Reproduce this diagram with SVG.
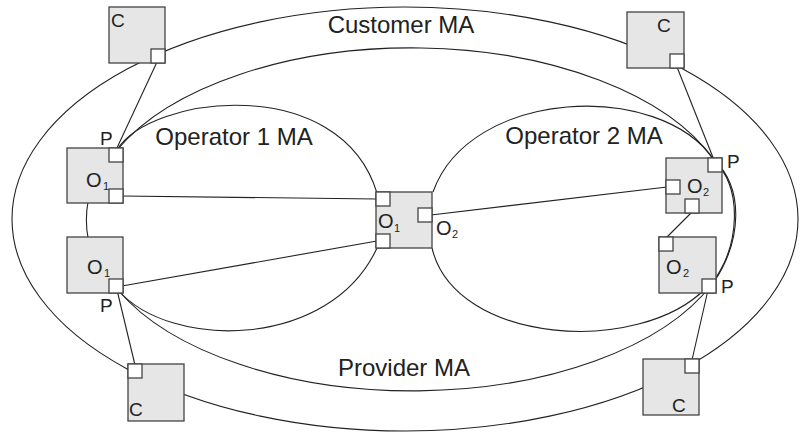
<svg xmlns="http://www.w3.org/2000/svg" width="801" height="433" viewBox="0 0 801 433">
<style>
.ln{fill:none;stroke:#222;stroke-width:1.1}
.box{fill:#e6e6e6;stroke:#444;stroke-width:1.3}
.port{fill:#fff;stroke:#444;stroke-width:1.3}
.t{font-family:"Liberation Sans",Arial,sans-serif;fill:#222}
.lab{font-size:24px}
.nl{font-size:20px}
.cl{font-size:19px}
.sub{font-size:11px}
.p{font-size:19px}
</style>
<rect width="801" height="433" fill="#fff"/>
<g id="domains">
<ellipse class="ln" cx="405" cy="219" rx="393" ry="212"/>
<path class="ln" d="M117,150 A323,173 0 0 1 714,160"/>
<path class="ln" d="M714,160 C744,188 742,240 714,282"/>
<path class="ln" d="M712,284 A323,171 0 0 1 118,290"/>
<path class="ln" d="M117,152 C76,185 76,255 118,290"/>
<path class="ln" d="M117,150 C150,95 340,72 377,193"/>
<path class="ln" d="M118,290 C170,350 330,350 377,248"/>
<path class="ln" d="M433,192 C470,88 660,80 714,160"/>
<path class="ln" d="M432,248 C455,345 640,356 706,288"/>
<path class="ln" d="M714,160 C743,189 740,246 712,283"/>
</g>
<g id="connectors">
<line class="ln" x1="157" y1="62" x2="116" y2="150"/>
<line class="ln" x1="135" y1="365" x2="117" y2="290"/>
<line class="ln" x1="677" y1="67" x2="714" y2="160"/>
<line class="ln" x1="692" y1="360" x2="708" y2="290"/>
<line class="ln" x1="122" y1="196" x2="377" y2="199"/>
<line class="ln" x1="122" y1="286" x2="377" y2="241"/>
<line class="ln" x1="431" y1="215" x2="667" y2="187"/>
<line class="ln" x1="692" y1="212" x2="666" y2="238"/>
</g>
<g id="c1">
<rect class="box" x="109" y="7" width="56" height="56"/>
<rect class="port" x="151" y="49" width="14" height="14"/>
<text class="t cl" x="111" y="27">C</text>
</g>
<g id="c2">
<rect class="box" x="627" y="12" width="57" height="56"/>
<rect class="port" x="670" y="54" width="14" height="14"/>
<text class="t cl" x="657" y="32">C</text>
</g>
<g id="c3">
<rect class="box" x="128" y="364" width="56" height="57"/>
<rect class="port" x="128" y="364" width="14" height="14"/>
<text class="t cl" x="129" y="416">C</text>
</g>
<g id="c4">
<rect class="box" x="643" y="359" width="56" height="56"/>
<rect class="port" x="685" y="359" width="14" height="14"/>
<text class="t cl" x="672" y="412">C</text>
</g>
<g id="o1a">
<rect class="box" x="67" y="148" width="56" height="55"/>
<rect class="port" x="109" y="148" width="14" height="14"/>
<rect class="port" x="109" y="189" width="14" height="14"/>
<text class="t nl" x="86" y="187">O</text>
<text class="t sub" x="103" y="190">1</text>
<text class="t p" x="100" y="145">P</text>
</g>
<g id="o1b">
<rect class="box" x="67" y="237" width="56" height="56"/>
<rect class="port" x="109" y="279" width="14" height="14"/>
<text class="t nl" x="87" y="274">O</text>
<text class="t sub" x="104" y="277">1</text>
<text class="t p" x="100" y="312">P</text>
</g>
<g id="oc">
<rect class="box" x="376" y="192" width="56" height="56"/>
<rect class="port" x="376" y="192" width="14" height="14"/>
<rect class="port" x="376" y="234" width="14" height="14"/>
<rect class="port" x="418" y="208" width="14" height="14"/>
<text class="t nl" x="378" y="228">O</text>
<text class="t sub" x="394" y="232">1</text>
<text class="t nl" x="436" y="235">O</text>
<text class="t sub" x="452" y="238">2</text>
</g>
<g id="o2a">
<rect class="box" x="666" y="158" width="56" height="55"/>
<rect class="port" x="708" y="158" width="14" height="14"/>
<rect class="port" x="666" y="180" width="14" height="14"/>
<rect class="port" x="685" y="199" width="14" height="14"/>
<text class="t nl" x="687" y="193">O</text>
<text class="t sub" x="703" y="196">2</text>
<text class="t p" x="727" y="168">P</text>
</g>
<g id="o2b">
<rect class="box" x="659" y="237" width="57" height="56"/>
<rect class="port" x="659" y="237" width="14" height="14"/>
<rect class="port" x="702" y="279" width="14" height="14"/>
<text class="t nl" x="666" y="274">O</text>
<text class="t sub" x="683" y="277">2</text>
<text class="t p" x="721" y="293">P</text>
</g>
<g id="labels">
<text class="t lab" x="401" y="33" text-anchor="middle">Customer MA</text>
<text class="t lab" x="234" y="145" text-anchor="middle">Operator 1 MA</text>
<text class="t lab" x="584" y="144" text-anchor="middle">Operator 2 MA</text>
<text class="t lab" x="404" y="376" text-anchor="middle">Provider MA</text>
</g>
</svg>
